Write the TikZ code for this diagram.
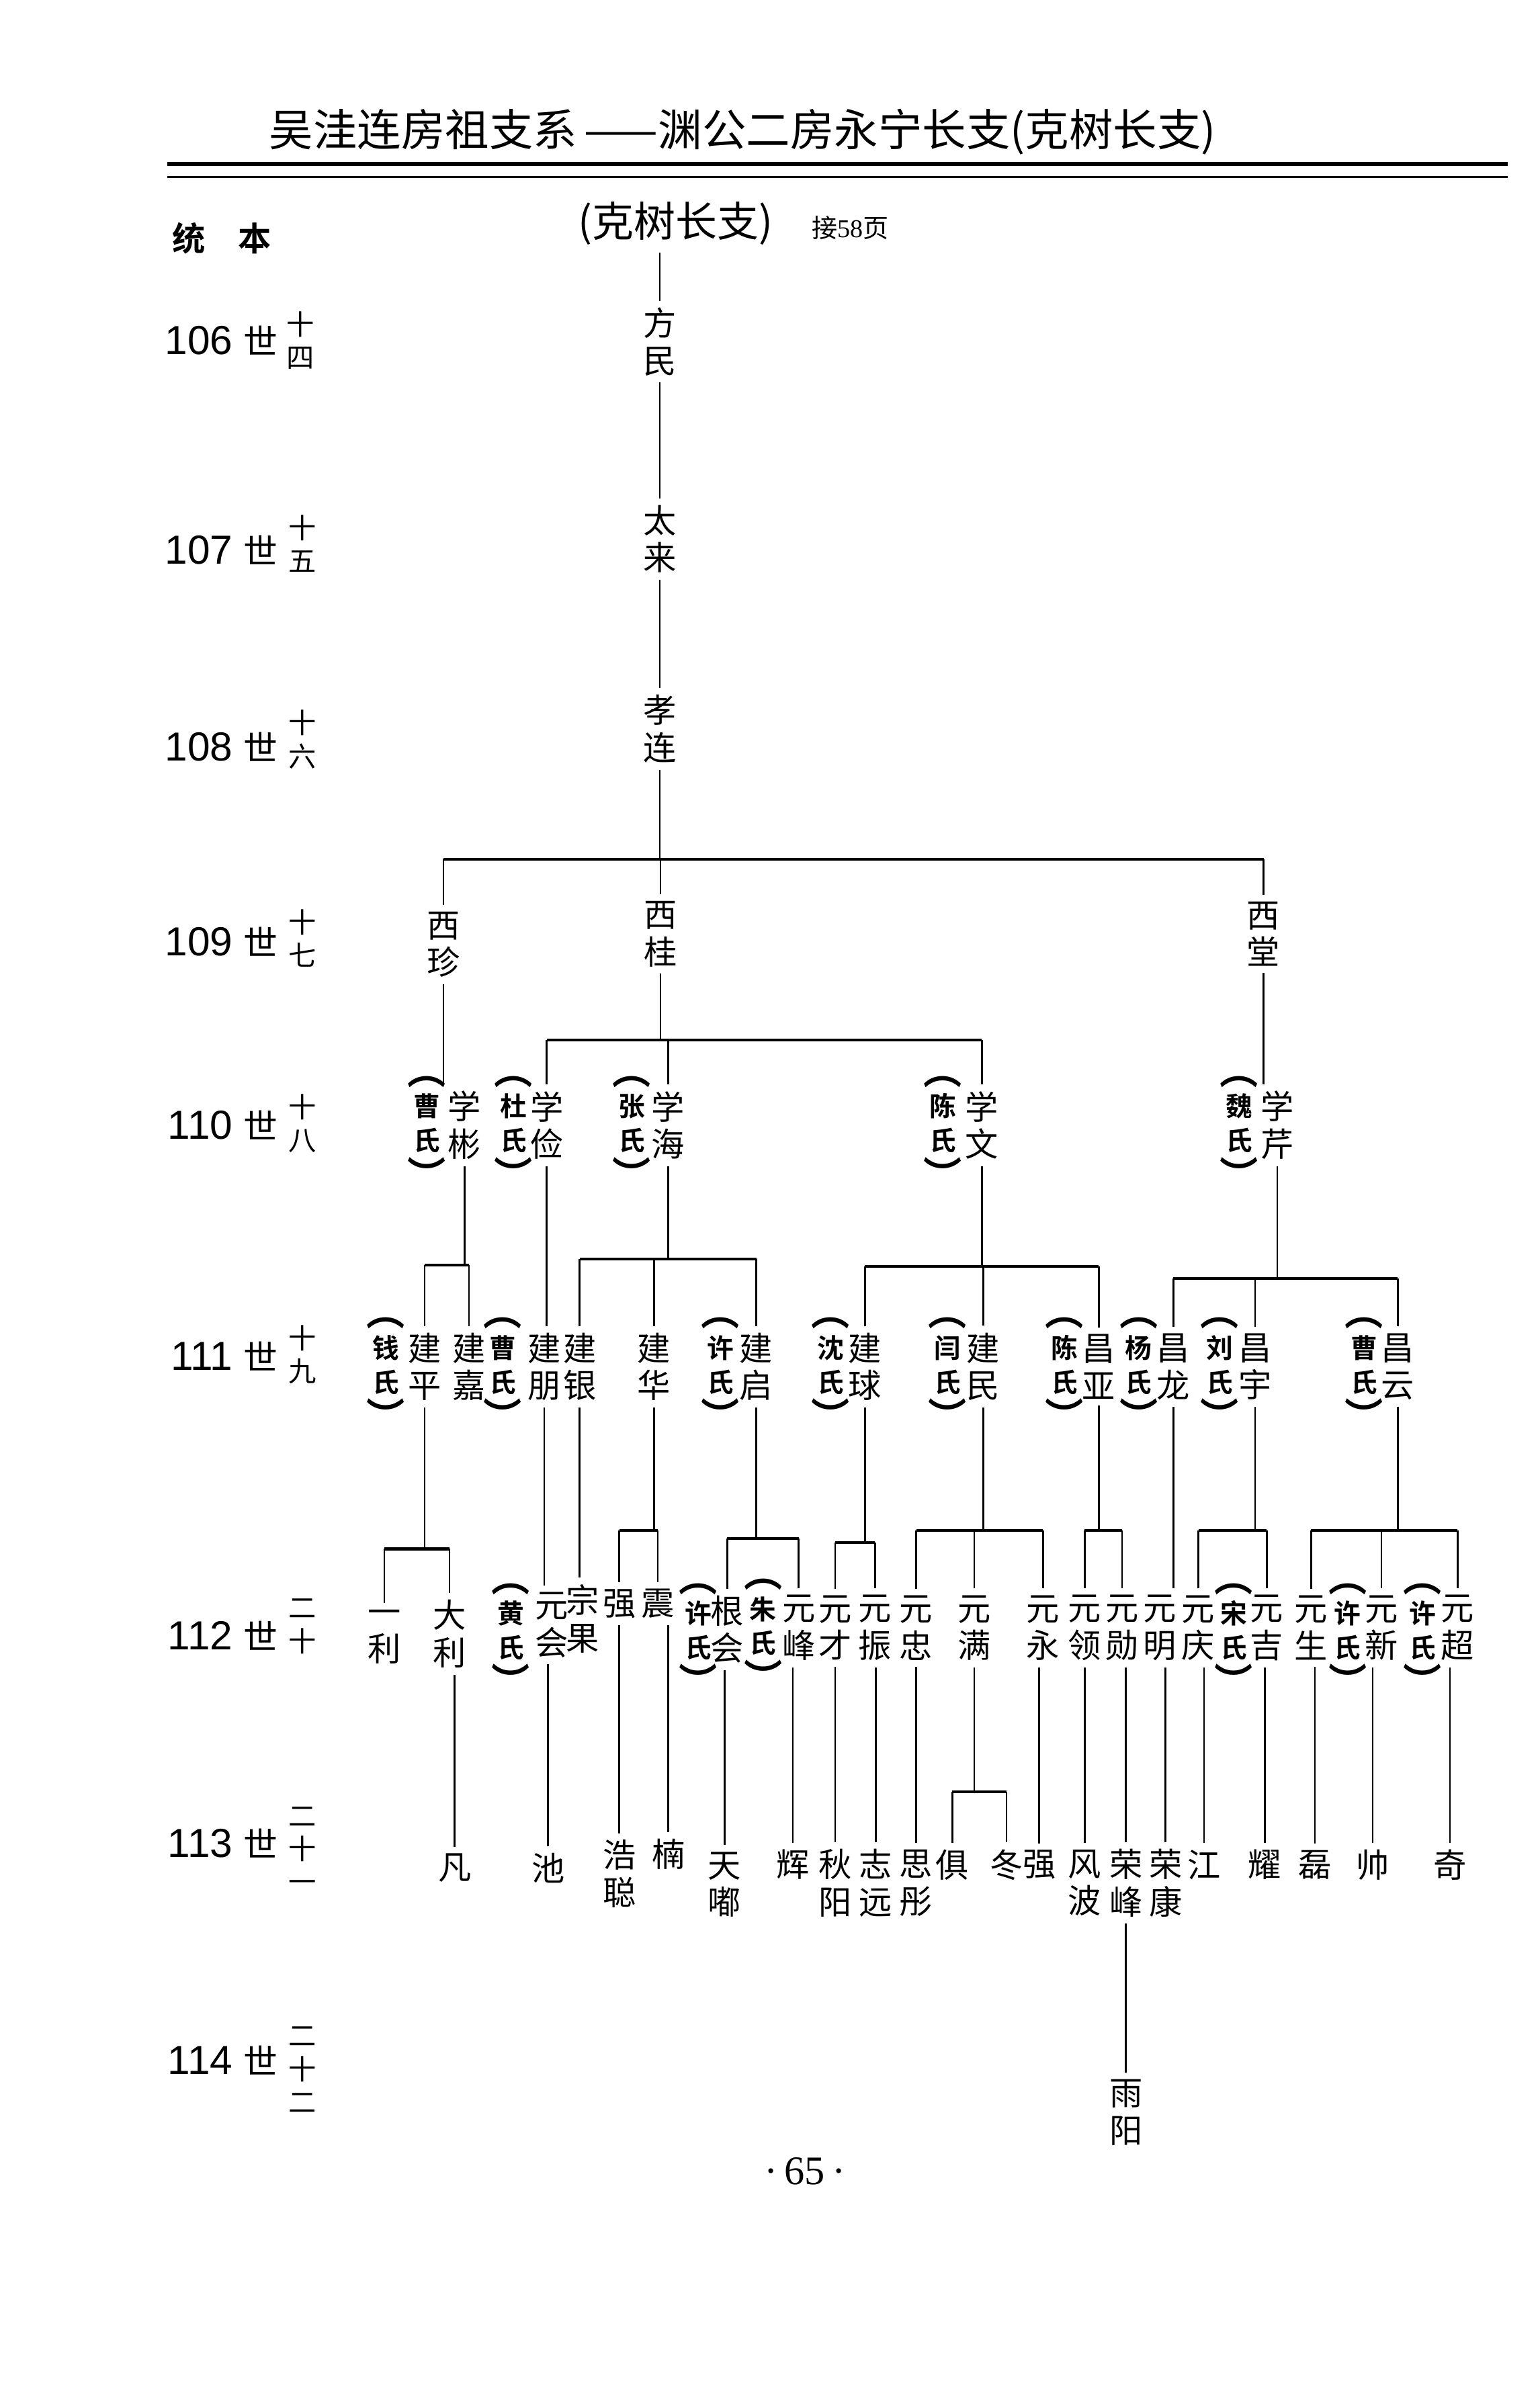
\documentclass[tikz,border=0pt]{standalone}
\usepackage{fontspec}
\setmainfont{Noto Sans CJK SC}[BoldFont={Noto Sans CJK SC Bold}]
\newfontfamily\arialfont{Liberation Sans}
\newfontfamily\romanfont{Liberation Serif}

% spouse column: (X氏) set upright
\newcommand\wifeof[1]{{\fontsize{18}{16}\selectfont ︵}\\[-1pt]#1\\氏\\[1pt]{\fontsize{18}{16}\selectfont ︶}}
% generation label on the left
\newcommand\genttl[1]{{\arialfont #1}\hspace{5pt}{\fontsize{16}{16}\selectfont 世}}
% parent -> bar -> children
\newcommand\famline[3]{%
  \draw[link] (#1.south) -- (#1.south |- 0,#2);
  \foreach \kid in {#3}{
    \draw[hbar] (#1.south |- 0,#2) -- (\kid.north |- 0,#2);
    \draw[link] (\kid.north |- 0,#2) -- (\kid.north);
  }}

\begin{document}
\begin{tikzpicture}[x=0.025cm, y=-0.025cm,
  person/.style={font=\fontsize{15.5}{17.5}\selectfont, align=center, inner sep=3pt},
  wife/.style={font=\fontsize{12.5}{16}\selectfont\bfseries, align=center, inner sep=1pt, yshift=-3.5pt},
  gen/.style={font=\fontsize{19}{19}\selectfont, anchor=east, inner sep=0pt},
  genno/.style={font=\fontsize{13}{15.5}\selectfont, align=center, inner sep=0pt},
  link/.style={line width=0.8pt},
  hbar/.style={line width=1.3pt},
]
\useasboundingbox (0,0) rectangle (1014,1568);
\fill[white] (0,0) rectangle (1014,1568);

% page head
\node[font=\fontsize{20.6}{24}\selectfont] (title) at (489,87) {吴洼连房祖支系\,——渊公二房永宁长支(克树长支)};
\draw[line width=2pt] (110,108) -- (993,108);
\draw[line width=1pt] (110,116.5) -- (993,116.5);

\node[font=\fontsize{15.5}{16}\selectfont\bfseries] (tongben) at (146,157) {统\hspace{1em}本};
\node[font=\fontsize{19.5}{22}\selectfont] (kshu) at (445,147) {(克树长支)};
\node[font=\fontsize{12}{12}\selectfont] (jie) at (560,150) {接{\romanfont 58}页};

% generations
\node[gen] (g106) at (183,224) {\genttl{106}};
\node[gen] (g107) at (183,362) {\genttl{107}};
\node[gen] (g108) at (183,492) {\genttl{108}};
\node[gen] (g109) at (183,620) {\genttl{109}};
\node[gen] (g110) at (183,741) {\genttl{110}};
\node[gen] (g111) at (183,893) {\genttl{111}};
\node[gen] (g112) at (183,1077) {\genttl{112}};
\node[gen] (g113) at (183,1214) {\genttl{113}};
\node[gen] (g114) at (183,1357) {\genttl{114}};
\node[genno] (n106) at (198,224) {十\\四};
\node[genno] (n107) at (199,358) {十\\五};
\node[genno] (n108) at (199,487) {十\\六};
\node[genno] (n109) at (199,618) {十\\七};
\node[genno] (n110) at (199,740) {十\\八};
\node[genno] (n111) at (199,892) {十\\九};
\node[genno] (n112) at (199,1071) {二\\十};
\node[genno] (n113) at (199,1218) {二\\十\\一};
\node[genno] (n114) at (199,1363) {二\\十\\二};

% 106 - 109
\node[person] (fangmin) at (434.5,225) {方\\民};
\node[person] (tailai) at (434.5,355) {太\\来};
\node[person] (xiaolian) at (434.5,480) {孝\\连};
\node[person] (xizhen) at (292,622) {西\\珍};
\node[person] (xigui) at (435,615) {西\\桂};
\node[person] (xitang) at (832,615) {西\\堂};

% 110
\node[person] (xuebin) at (306,741) {学\\彬};
\node[wife] (w-xuebin) at (281,741) {\wifeof{曹}};
\node[person] (xuejian) at (360,741) {学\\俭};
\node[wife] (w-xuejian) at (338,741) {\wifeof{杜}};
\node[person] (xuehai) at (440,741) {学\\海};
\node[wife] (w-xuehai) at (416,741) {\wifeof{张}};
\node[person] (xuewen) at (646.5,741) {学\\文};
\node[wife] (w-xuewen) at (621,741) {\wifeof{陈}};
\node[person] (xueqin) at (841,741) {学\\芹};
\node[wife] (w-xueqin) at (816,741) {\wifeof{魏}};

% 111
\node[person] (jianping) at (279.6,900) {建\\平};
\node[wife] (w-jianping) at (254.2,900) {\wifeof{钱}};
\node[person] (jianjia) at (308.8,900) {建\\嘉};
\node[person] (jianpeng) at (358.3,900) {建\\朋};
\node[wife] (w-jianpeng) at (330.9,900) {\wifeof{曹}};
\node[person] (jianyin) at (381.7,900) {建\\银};
\node[person] (jianhua) at (430.7,900) {建\\华};
\node[person] (jianqi) at (498,900) {建\\启};
\node[wife] (w-jianqi) at (474.3,900) {\wifeof{许}};
\node[person] (jianqiu) at (569.6,900) {建\\球};
\node[wife] (w-jianqiu) at (547,900) {\wifeof{沈}};
\node[person] (jianmin) at (647.5,900) {建\\民};
\node[wife] (w-jianmin) at (623.9,900) {\wifeof{闫}};
\node[person] (changya) at (723.6,900) {昌\\亚};
\node[wife] (w-changya) at (700.8,900) {\wifeof{陈}};
\node[person] (changlong) at (772.6,900) {昌\\龙};
\node[wife] (w-changlong) at (749.8,900) {\wifeof{杨}};
\node[person] (changyu) at (826.5,900) {昌\\宇};
\node[wife] (w-changyu) at (803.1,900) {\wifeof{刘}};
\node[person] (changyun) at (920.4,900) {昌\\云};
\node[wife] (w-changyun) at (898.1,900) {\wifeof{曹}};

% 112
\node[person] (yili) at (253,1078) {一\\利};
\node[person] (dali) at (296,1076) {大\\利};
\node[person] (yuanhui) at (363.4,1070) {元\\会};
\node[wife] (w-yuanhui) at (336.2,1075) {\wifeof{黄}};
\node[person] (zongguo) at (383.7,1066) {宗\\果};
\node[person] (qiang) at (407.8,1056) {强};
\node[person] (zhen) at (433.2,1056) {震};
\node[person] (genhui) at (478.9,1073) {根\\会};
\node[wife] (w-genhui) at (459.9,1075) {\wifeof{许}};
\node[person] (yuanfeng) at (525.9,1072) {元\\峰};
\node[wife] (w-yuanfeng) at (502.5,1072) {\wifeof{朱}};
\node[person] (yuancai) at (550,1072) {元\\才};
\node[person] (yuanzhen) at (576.2,1072) {元\\振};
\node[person] (yuanzhong) at (603.3,1072) {元\\忠};
\node[person] (yuanman) at (641.6,1072) {元\\满};
\node[person] (yuanyong) at (686.8,1072) {元\\永};
\node[person] (yuanling) at (714.2,1072) {元\\领};
\node[person] (yuanxun) at (738.9,1072) {元\\勋};
\node[person] (yuanming) at (763.7,1072) {元\\明};
\node[person] (yuanqing) at (789.1,1072) {元\\庆};
\node[person] (yuanji) at (834.1,1072) {元\\吉};
\node[wife] (w-yuanji) at (812.5,1075) {\wifeof{宋}};
\node[person] (yuansheng) at (863.3,1072) {元\\生};
\node[person] (yuanxin) at (909.7,1072) {元\\新};
\node[wife] (w-yuanxin) at (887.4,1075) {\wifeof{许}};
\node[person] (yuanchao) at (959.8,1072) {元\\超};
\node[wife] (w-yuanchao) at (936.9,1075) {\wifeof{许}};

% 113
\node[person] (fan) at (299.4,1230) {凡};
\node[person] (chi) at (360.9,1230) {池};
\node[person] (haocong) at (407.8,1234) {浩\\聪};
\node[person] (nan) at (440.1,1221) {楠};
\node[person] (tiandu) at (477.1,1241) {天\\嘟};
\node[person] (hui) at (522.1,1228) {辉};
\node[person] (qiuyang) at (550,1240) {秋\\阳};
\node[person] (zhiyuan) at (576.7,1240) {志\\远};
\node[person] (sitong) at (603.3,1240) {思\\彤};
\node[person] (ju) at (627.1,1228) {俱};
\node[person] (dong) at (662.7,1228) {冬};
\node[person] (qiangb) at (684.3,1228) {强};
\node[person] (fengbo) at (714.2,1240) {风\\波};
\node[person] (rongfeng) at (741.4,1240) {荣\\峰};
\node[person] (rongkang) at (767.5,1240) {荣\\康};
\node[person] (jiang) at (792.9,1228) {江};
\node[person] (yao) at (832.8,1228) {耀};
\node[person] (lei) at (865.8,1228) {磊};
\node[person] (shuai) at (903.9,1228) {帅};
\node[person] (qi) at (954.7,1228) {奇};

% 114
\node[person] (yuyang) at (741.4,1391) {雨\\阳};

\node[font=\romanfont\fontsize{19}{19}\selectfont] (pageno) at (530,1430) {·\,65\,·};

% lines
\draw[link] (fangmin.north |- kshu.south) -- (fangmin.north);
\draw[link] (fangmin.south) -- (tailai.north);
\draw[link] (tailai.south) -- (xiaolian.north);
\famline{xiaolian}{566}{xizhen,xigui,xitang}

\draw[link] (xizhen.south) -- (xizhen.south |- xuebin.north);
\famline{xigui}{685}{xuejian,xuehai,xuewen}
\draw[link] (xitang.south) -- (xitang.south |- xueqin.north);

\famline{xuebin}{833}{jianping,jianjia}
\draw[link] (xuejian.south) -- (xuejian.south |- jianpeng.north);
\famline{xuehai}{829}{jianyin,jianhua,jianqi}
\famline{xuewen}{834}{jianqiu,jianmin,changya}
\famline{xueqin}{842}{changlong,changyu,changyun}

\famline{jianping}{1020}{yili,dali}
\draw[link] (jianpeng.south) -- (jianpeng.south |- yuanhui.north);
\draw[link] (jianyin.south) -- (jianyin.south |- zongguo.north);
\famline{jianhua}{1008}{qiang,zhen}
\famline{jianqi}{1013}{genhui,yuanfeng}
\famline{jianqiu}{1016}{yuancai,yuanzhen}
\famline{jianmin}{1008}{yuanzhong,yuanman,yuanyong}
\famline{changya}{1008}{yuanling,yuanxun}
\draw[link] (changlong.south) -- (changlong.south |- yuanming.north);
\famline{changyu}{1008}{yuanqing,yuanji}
\famline{changyun}{1008}{yuansheng,yuanxin,yuanchao}

\draw[link] (fan.north |- dali.south) -- (fan.north);
\draw[link] (chi.north |- yuanhui.south) -- (chi.north);
\draw[link] (haocong.north |- qiang.south) -- (haocong.north);
\draw[link] (nan.north |- zhen.south) -- (nan.north);
\draw[link] (tiandu.north |- genhui.south) -- (tiandu.north);
\draw[link] (hui.north |- yuanfeng.south) -- (hui.north);
\draw[link] (qiuyang.north |- yuancai.south) -- (qiuyang.north);
\draw[link] (zhiyuan.north |- yuanzhen.south) -- (zhiyuan.north);
\draw[link] (sitong.north |- yuanzhong.south) -- (sitong.north);
\famline{yuanman}{1180}{ju,dong}
\draw[link] (qiangb.north |- yuanyong.south) -- (qiangb.north);
\draw[link] (fengbo.north |- yuanling.south) -- (fengbo.north);
\draw[link] (rongfeng.north |- yuanxun.south) -- (rongfeng.north);
\draw[link] (rongkang.north |- yuanming.south) -- (rongkang.north);
\draw[link] (jiang.north |- yuanqing.south) -- (jiang.north);
\draw[link] (yao.north |- yuanji.south) -- (yao.north);
\draw[link] (lei.north |- yuansheng.south) -- (lei.north);
\draw[link] (shuai.north |- yuanxin.south) -- (shuai.north);
\draw[link] (qi.north |- yuanchao.south) -- (qi.north);

\draw[link] (rongfeng.south) -- (rongfeng.south |- yuyang.north);
\end{tikzpicture}
\end{document}
